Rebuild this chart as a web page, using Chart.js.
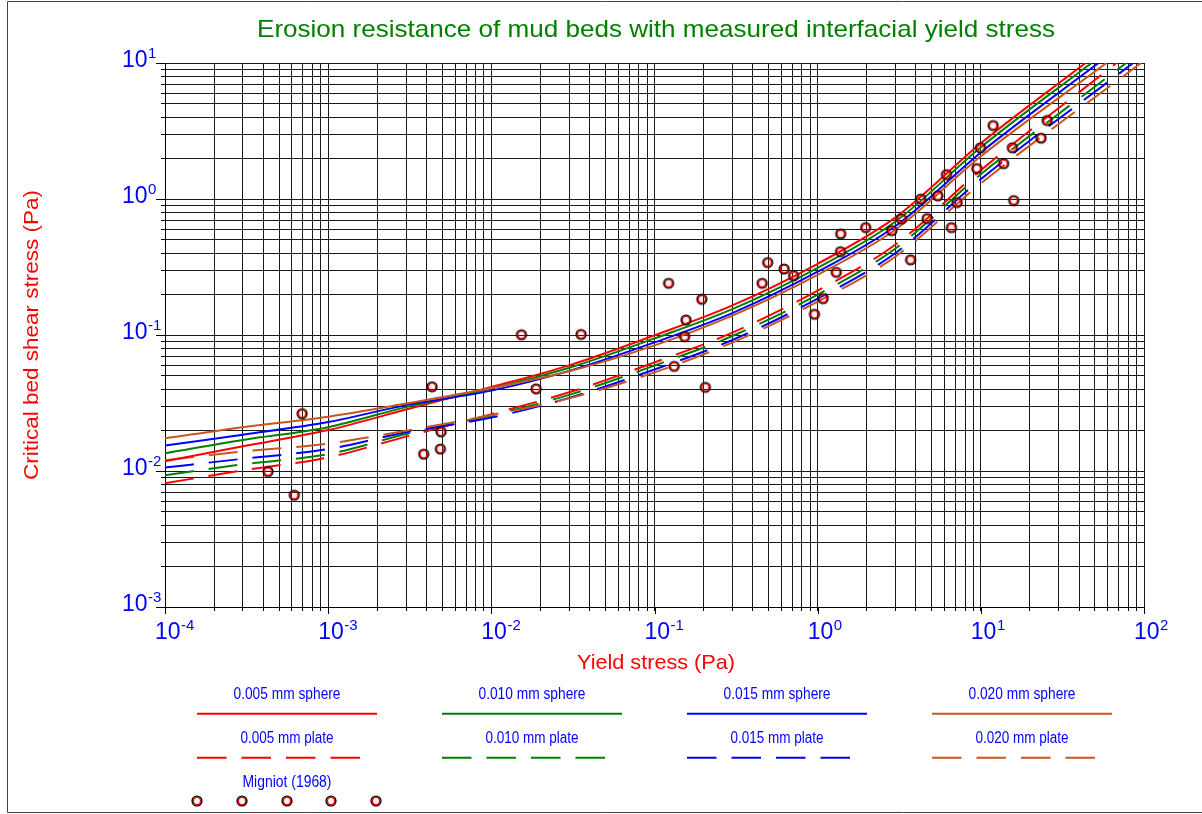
<!DOCTYPE html>
<html><head><meta charset="utf-8">
<script src="https://cdn.jsdelivr.net/npm/chart.js@4.4.1/dist/chart.umd.min.js"></script>
<style>html,body{margin:0;padding:0;background:#fff;overflow:hidden}canvas{display:block}</style>
</head><body>
<canvas id="c" width="1202" height="814"></canvas>
<script>
// ---------- text ----------
const titleText = 'Erosion resistance of mud beds with measured interfacial yield stress';
const xTitle = 'Yield stress (Pa)';
const yTitle = 'Critical bed shear stress (Pa)';
const sphereLabels = ['0.005 mm sphere', '0.010 mm sphere', '0.015 mm sphere', '0.020 mm sphere'];
const plateLabels = ['0.005 mm plate', '0.010 mm plate', '0.015 mm plate', '0.020 mm plate'];
const migniotLabel = 'Migniot (1968)';

// ---------- axes (decade exponents) ----------
const xDecades = [-4, -3, -2, -1, 0, 1, 2];
const yDecades = [-3, -2, -1, 0, 1];

// ---------- curves ----------
const tauY = [0.0001, 0.0003, 0.001, 0.003, 0.01, 0.03, 0.1, 0.3, 1, 3, 10];
const sphere005 = [0.0118, 0.0152, 0.0200, 0.0283, 0.0414, 0.0598, 0.0994, 0.165, 0.334, 0.732, 2.57];
const sphere010 = [0.0135, 0.0169, 0.0210, 0.0295, 0.0404, 0.0574, 0.0944, 0.155, 0.312, 0.683, 2.40];
const sphere015 = [0.0154, 0.0185, 0.0229, 0.0305, 0.0390, 0.0545, 0.0882, 0.145, 0.292, 0.633, 2.20];
const sphere020 = [0.0174, 0.0210, 0.0251, 0.0313, 0.0407, 0.0541, 0.0839, 0.139, 0.277, 0.597, 2.06];
const plate005 = [0.00814, 0.0101, 0.0126, 0.0179, 0.0262, 0.0379, 0.0629, 0.104, 0.212, 0.463, 1.63];
const plate010 = [0.00932, 0.0112, 0.0133, 0.0187, 0.0256, 0.0363, 0.0597, 0.0983, 0.198, 0.433, 1.52];
const plate015 = [0.0106, 0.0123, 0.0145, 0.0193, 0.0247, 0.0345, 0.0558, 0.0919, 0.185, 0.401, 1.40];
const plate020 = [0.0120, 0.0139, 0.0159, 0.0198, 0.0258, 0.0342, 0.0531, 0.0880, 0.176, 0.378, 1.30];
// yield stress at which each curve reaches the top of the plot (10 Pa)
const topStress = 10;
const sphereEnd = [43.8, 47.7, 52.6, 58.9];
const plateEnd = [67.9, 77.7, 85.8, 96.0];

// ---------- Migniot (1968) data ----------
const migniotX = [4.28e-4, 6.20e-4, 6.92e-4, 3.85e-3, 4.33e-3, 4.87e-3, 4.92e-3, 0.0153, 0.0188, 0.0355,
  0.122, 0.132, 0.153, 0.156, 0.195, 0.205, 0.457, 0.494, 0.623, 0.712, 0.956, 1.08, 1.30, 1.38, 1.385,
  1.97, 2.85, 3.26, 3.71, 4.28, 4.69, 5.45, 6.16, 6.61, 7.16, 9.45, 9.95, 11.9, 13.8, 15.6, 15.9, 23.4, 25.5];
const migniotY = [0.0099, 0.00664, 0.0264, 0.0133, 0.0416, 0.0145, 0.0194, 0.1005, 0.0402, 0.101,
  0.240, 0.0588, 0.0972, 0.129, 0.183, 0.0412, 0.240, 0.341, 0.306, 0.273, 0.142, 0.185, 0.289, 0.410, 0.554,
  0.616, 0.586, 0.714, 0.357, 0.998, 0.718, 1.055, 1.51, 0.616, 0.942, 1.675, 2.38, 3.47, 1.82, 2.38, 0.974, 2.80, 3.78];

const colors = ['#ff0000', '#008000', '#0000ff', '#c8561e'];
const FONT = "'Liberation Sans', Arial, sans-serif";

function curve(ys, endX) {
  const pts = tauY.map((x, i) => ({x: x, y: ys[i]}));
  pts.push({x: endX, y: topStress});
  return pts;
}
function makeMarker() {
  const c = document.createElement('canvas');
  c.width = 14; c.height = 14;
  const g = c.getContext('2d');
  g.lineWidth = 1.4;
  g.strokeStyle = '#000';
  g.beginPath(); g.arc(7, 7, 4.9, 0, Math.PI * 2); g.stroke();
  g.strokeStyle = '#ff0000';
  g.lineWidth = 1.4;
  g.beginPath(); g.arc(7, 7, 3.6, 0, Math.PI * 2); g.stroke();
  return c;
}
const marker = makeMarker();

function logTicks(decs) {
  const t = [];
  for (let i = 0; i < decs.length - 1; i++) {
    for (let m = 1; m < 10; m++) t.push({value: m * Math.pow(10, decs[i])});
  }
  t.push({value: Math.pow(10, decs[decs.length - 1])});
  return t;
}

const sphereSets = [sphere005, sphere010, sphere015, sphere020];
const plateSets = [plate005, plate010, plate015, plate020];
const datasets = [{
  label: migniotLabel,
  data: migniotX.map((x, i) => ({x: x, y: migniotY[i]})),
  pointStyle: marker, pointRadius: 5, showLine: false, order: 0
}];
sphereSets.forEach((ys, i) => datasets.push({
  label: sphereLabels[i], data: curve(ys, sphereEnd[i]), showLine: true, pointRadius: 0,
  borderColor: colors[i], borderWidth: 2, cubicInterpolationMode: 'monotone', order: 10 - i
}));
plateSets.forEach((ys, i) => datasets.push({
  label: plateLabels[i], data: curve(ys, plateEnd[i]), showLine: true, pointRadius: 0,
  borderColor: colors[i], borderWidth: 2, borderDash: [29, 15], cubicInterpolationMode: 'monotone', order: 20 - i
}));

function txt(ctx, s, x, y, size, color, align, sx) {
  ctx.save();
  ctx.font = size + 'px ' + FONT;
  ctx.fillStyle = color;
  ctx.textAlign = align || 'left';
  ctx.textBaseline = 'alphabetic';
  ctx.translate(x, y);
  ctx.scale(sx || 1, 1);
  ctx.fillText(s, 0, 0);
  ctx.restore();
}
function fitScale(ctx, s, size, target) {
  ctx.save(); ctx.font = size + 'px ' + FONT;
  const w = ctx.measureText(s).width; ctx.restore();
  return target / w;
}

const overlay = {
  id: 'overlay',
  afterDraw(chart) {
    const ctx = chart.ctx, xs = chart.scales.x, ys = chart.scales.y, a = chart.chartArea;
    ctx.save();
    // frame
    ctx.strokeStyle = '#444'; ctx.lineWidth = 1;
    ctx.beginPath();
    ctx.moveTo(1202, 1.5); ctx.lineTo(7.5, 1.5); ctx.lineTo(7.5, 812.5); ctx.lineTo(1202, 812.5);
    ctx.stroke();
    // major tick marks
    ctx.strokeStyle = '#000';
    ctx.beginPath();
    xDecades.forEach(d => { const p = Math.round(xs.getPixelForValue(Math.pow(10, d))) + 0.5; ctx.moveTo(p, a.bottom); ctx.lineTo(p, a.bottom + 7); });
    yDecades.forEach(d => { const p = Math.round(ys.getPixelForValue(Math.pow(10, d))) + 0.5; ctx.moveTo(a.left - 9, p); ctx.lineTo(a.left, p); });
    ctx.stroke();
    // tick labels
    const blue = '#0000ff';
    ctx.font = '23px ' + FONT;
    const w10 = ctx.measureText('10').width;
    xDecades.forEach(d => {
      const p = xs.getPixelForValue(Math.pow(10, d));
      txt(ctx, '10', p - 10, 639, 23, blue, 'left');
      txt(ctx, String(d), p - 10 + w10 + 0.5, 630, 15, blue, 'left');
    });
    yDecades.forEach(d => {
      const p = ys.getPixelForValue(Math.pow(10, d));
      txt(ctx, '10', 122, p + 4, 23, blue, 'left');
      txt(ctx, String(d), 122 + w10 + 0.5, p - 5, 15, blue, 'left');
    });
    // title & axis titles
    txt(ctx, titleText, 656, 37, 24, '#008000', 'center', fitScale(ctx, titleText, 24, 798));
    txt(ctx, xTitle, 656, 669, 21, '#ff0000', 'center', fitScale(ctx, xTitle, 21, 158));
    ctx.save();
    ctx.translate(38, 335); ctx.rotate(-Math.PI / 2);
    txt(ctx, yTitle, 0, 0, 21, '#ff0000', 'center', fitScale(ctx, yTitle, 21, 290));
    ctx.restore();
    // legend
    const lefts = [197, 442, 687, 932];
    lefts.forEach((l, i) => {
      const cx = l + 90;
      txt(ctx, sphereLabels[i], cx, 698.5, 16, blue, 'center', fitScale(ctx, sphereLabels[i], 16, 107));
      txt(ctx, plateLabels[i], cx, 742.5, 16, blue, 'center', fitScale(ctx, plateLabels[i], 16, 93));
      ctx.strokeStyle = colors[i]; ctx.lineWidth = 2;
      ctx.setLineDash([]);
      ctx.beginPath(); ctx.moveTo(l, 713.7); ctx.lineTo(l + 180, 713.7); ctx.stroke();
      ctx.setLineDash([29.5, 15]);
      ctx.beginPath(); ctx.moveTo(l, 757.7); ctx.lineTo(l + 165, 757.7); ctx.stroke();
      ctx.setLineDash([]);
    });
    txt(ctx, migniotLabel, 287, 786.5, 16, blue, 'center', fitScale(ctx, migniotLabel, 16, 89));
    for (let k = 0; k < 5; k++) {
      ctx.drawImage(marker, Math.round(197 + k * 44.8) - 7, 801 - 7);
    }
    ctx.restore();
  }
};

new Chart(document.getElementById('c'), {
  type: 'scatter',
  data: {datasets: datasets},
  options: {
    responsive: false, animation: false, devicePixelRatio: 1, events: [],
    layout: {padding: {top: 63, right: 58, left: 0, bottom: 0}},
    plugins: {legend: {display: false}, tooltip: {enabled: false}, title: {display: false}},
    scales: {
      x: {
        type: 'logarithmic', position: 'bottom', min: 1e-4, max: 100,
        afterBuildTicks: s => { s.ticks = logTicks(xDecades); },
        afterFit: s => { s.height = 207; },
        ticks: {display: false},
        grid: {color: '#1a1a1a', lineWidth: 1, drawTicks: true, tickLength: 4, tickColor: '#000'},
        border: {display: true, color: '#000', width: 1}
      },
      y: {
        type: 'logarithmic', position: 'left', min: 1e-3, max: 10,
        afterBuildTicks: s => { s.ticks = logTicks(yDecades); },
        afterFit: s => { s.width = 165; },
        ticks: {display: false},
        grid: {color: '#1a1a1a', lineWidth: 1, drawTicks: true, tickLength: 4, tickColor: '#000'},
        border: {display: true, color: '#000', width: 1}
      }
    }
  },
  plugins: [overlay]
});
</script>
</body></html>
